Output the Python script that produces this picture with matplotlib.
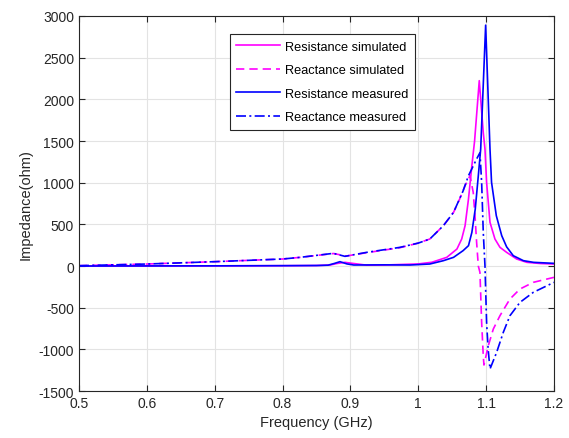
import matplotlib
matplotlib.use("Agg")
import matplotlib.pyplot as plt

plt.rcParams['font.family'] = ['Liberation Sans', 'DejaVu Sans']
plt.rcParams['axes.unicode_minus'] = False

# resistance simulated (GHz, ohm)
f_rs = [0.5, 0.6, 0.7, 0.8, 0.85, 0.87, 0.88, 0.892, 0.905, 0.924, 0.95, 1.0, 1.02,
        1.042, 1.057, 1.064, 1.069, 1.074, 1.079, 1.083, 1.0899, 1.0958, 1.0983,
        1.1007, 1.1057, 1.113, 1.1204, 1.1302, 1.145, 1.16, 1.18, 1.2]
r_sim = [0, 1, 2, 4, 6, 12, 30, 44, 30, 10, 12, 25, 45,
         104, 204, 324, 484, 804, 1204, 1500, 2224, 1600, 1404,
         1004, 524, 324, 224, 164, 84, 44, 30, 24]

# reactance simulated
f_xs = [0.5, 0.6, 0.7, 0.8, 0.826, 0.875, 0.894, 0.924, 0.973, 1.0, 1.017, 1.037,
        1.052, 1.061, 1.069, 1.0762, 1.081, 1.0836, 1.086, 1.0885, 1.0909, 1.0934,
        1.0958, 1.0968, 1.1032, 1.1106, 1.1204, 1.1351, 1.1499, 1.1695, 1.2]
x_sim = [4, 24, 52, 84, 104, 150, 120, 160, 220, 275, 324, 484,
         644, 804, 964, 1084, 884, 604, 284, 0, -76, -676,
         -1076, -1188, -956, -756, -596, -396, -276, -196, -136]

# resistance measured
f_rm = [0.5, 0.6, 0.7, 0.8, 0.85, 0.867, 0.876, 0.8846, 0.895, 0.905, 0.95, 0.988,
        1.017, 1.037, 1.052, 1.066, 1.074, 1.079, 1.084, 1.0885, 1.092, 1.0993,
        1.1057, 1.108, 1.115, 1.123, 1.1302, 1.14, 1.155, 1.17, 1.2]
r_meas = [0, 1, 2, 4, 6, 10, 30, 52, 25, 12, 14, 12,
          24, 64, 104, 184, 244, 404, 684, 1084, 1404, 2890,
          1404, 1004, 604, 364, 230, 124, 64, 44, 32]

# reactance measured
f_xm = [0.5, 0.6, 0.7, 0.8, 0.826, 0.8748, 0.892, 0.924, 0.973, 1.0, 1.017, 1.037,
        1.052, 1.066, 1.074, 1.086, 1.0909, 1.0934, 1.0958, 1.0983, 1.1007, 1.103,
        1.1057, 1.1155, 1.1253, 1.1351, 1.1499, 1.1695, 1.2]
x_meas = [4, 24, 52, 84, 104, 152, 116, 164, 224, 275, 324, 484,
          644, 900, 1084, 1284, 1360, 1004, 404, 4, -676, -1000,
          -1236, -1036, -796, -596, -436, -316, -196]

fig = plt.figure(figsize=(5.69, 4.39), dpi=100)
ax = fig.add_axes([0.1388, 0.107, 0.8348, 0.8543])

ax.plot(f_rs, r_sim, color='#ff00ff', lw=1.2, label='Resistance simulated')
ax.plot(f_xs, x_sim, color='#ff00ff', lw=1.2, ls=(0, (5, 3)), label='Reactance simulated')
ax.plot(f_rm, r_meas, color='#0000ff', lw=1.2, label='Resistance measured')
ax.plot(f_xm, x_meas, color='#0000ff', lw=1.2, ls=(0, (6, 2, 1.2, 2)), label='Reactance measured')

ax.set_xlim(0.5, 1.2)
ax.set_ylim(-1500, 3000)
ax.set_xticks([0.5, 0.6, 0.7, 0.8, 0.9, 1.0, 1.1, 1.2])
ax.set_xticklabels(['0.5', '0.6', '0.7', '0.8', '0.9', '1', '1.1', '1.2'])
ax.set_yticks(range(-1500, 3001, 500))
ax.grid(True, color='#e3e3e3', lw=0.8)
ax.set_axisbelow(True)
ax.tick_params(direction='in', top=True, right=True, labelsize=10, colors='#262626', length=4)
for s in ax.spines.values():
    s.set_color('#262626')
    s.set_linewidth(0.8)

ax.set_xlabel('Frequency (GHz)', fontsize=10.5, color='#262626')
ax.set_ylabel('Impedance(ohm)', fontsize=10.5, color='#262626')

leg = ax.legend(loc='upper left', bbox_to_anchor=(0.318, 0.951), fontsize=9.2,
                handlelength=3.4, handletextpad=0.4, fancybox=False,
                edgecolor='#262626', framealpha=1, borderaxespad=0,
                labelspacing=0.9, borderpad=0.5)
leg.get_frame().set_linewidth(0.8)

fig.savefig('out.png', dpi=100)
